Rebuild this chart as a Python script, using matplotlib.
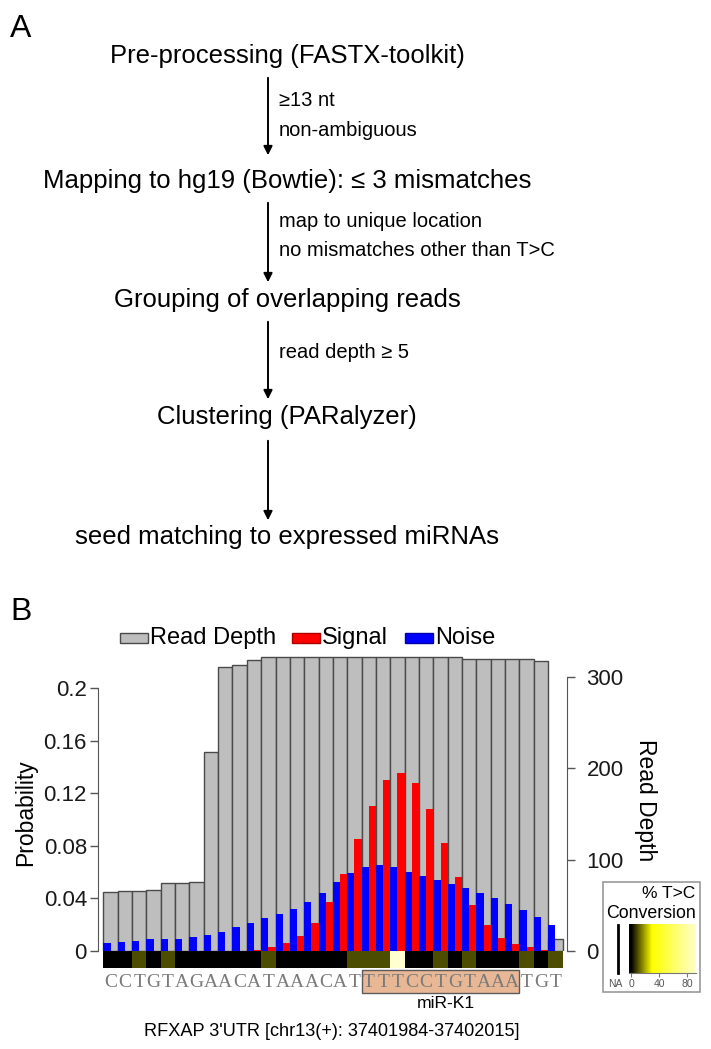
import matplotlib
matplotlib.use("Agg")
import matplotlib.pyplot as plt
import numpy as np
from matplotlib.patches import Rectangle, FancyArrowPatch
from matplotlib.lines import Line2D
from matplotlib.colors import LinearSegmentedColormap, Normalize

plt.rcParams['font.family'] = ['Liberation Sans', 'DejaVu Sans']

# ---------------- data ----------------
steps = ["Pre-processing (FASTX-toolkit)",
         "Mapping to hg19 (Bowtie): \u2264 3 mismatches",
         "Grouping of overlapping reads",
         "Clustering (PARalyzer)",
         "seed matching to expressed miRNAs"]
filters = [["\u226513 nt", "non-ambiguous"],
           ["map to unique location", "no mismatches other than T>C"],
           ["read depth \u2265 5"],
           []]

sequence = "CCTGTAGAACATAAACATTTTCCTGTAAATGT"
read_depth = [65, 66, 66, 67, 74, 75, 76, 218, 311, 313, 319, 322, 322, 322,
              322, 322, 322, 322, 322, 322, 322, 322, 322, 322, 322, 320, 320,
              320, 320, 320, 318, 13]
noise = [0.0058, 0.0071, 0.0078, 0.0089, 0.0091, 0.0094, 0.0109, 0.0124,
         0.0147, 0.0185, 0.0215, 0.0248, 0.0279, 0.0317, 0.0370, 0.0438,
         0.0522, 0.0590, 0.0636, 0.0653, 0.0636, 0.0602, 0.0569, 0.0539,
         0.0509, 0.0476, 0.0438, 0.0400, 0.0357, 0.0311, 0.0256, 0.0197]
signal = [0, 0, 0, 0, 0, 0, 0, 0, 0, 0, 0.0008, 0.0033, 0.0058, 0.0114,
          0.0210, 0.0370, 0.0582, 0.0848, 0.1103, 0.1298, 0.1356, 0.1280,
          0.1083, 0.0825, 0.0564, 0.0349, 0.0197, 0.0101, 0.0053, 0.0033,
          0.0010, 0]
nan = np.nan
conversion = [nan, nan, 9, nan, 9, nan, nan, nan, nan, nan, nan, 9, nan, nan,
              nan, nan, nan, 9, 9, 9, 95, nan, nan, 9, nan, 9, nan, nan, nan,
              9, nan, 9]
mirna_name = "miR-K1"
mirna_start, mirna_end = 18, 28   # 0-based positions covered by the site
region_label = "RFXAP 3'UTR [chr13(+): 37401984-37402015]"
prob_ticks = [0, 0.04, 0.08, 0.12, 0.16, 0.2]
prob_ticklabels = ["0", "0.04", "0.08", "0.12", "0.16", "0.2"]
depth_ticks = [0, 100, 200, 300]
conv_ticks = [0, 40, 80]

# ---------------- figure ----------------
W, H = 711, 1049
fig = plt.figure(figsize=(W / 100, H / 100), dpi=100)


def fx(x):
    return x / W


def fy(y):
    return 1 - y / H


# ---------------- panel A ----------------
fig.text(fx(10), fy(29), "A", fontsize=23, va="center", ha="left")
cx = 287
arrow_x = 268
step_y = [56, 181, 300, 417, 537]
arrows = [(75, 158), (200, 285), (319, 402), (438, 523)]
filter_y = [[101, 130], [222, 251], [353], []]
for s, y in zip(steps, step_y):
    fig.text(fx(cx), fy(y), s, fontsize=18.5, ha="center", va="center")
for (y0, y1) in arrows:
    fig.add_artist(FancyArrowPatch((fx(arrow_x), fy(y0)), (fx(arrow_x), fy(y1)),
                                   transform=fig.transFigure,
                                   arrowstyle="-|>", mutation_scale=13,
                                   lw=1.4, color="black"))
for texts, ys in zip(filters, filter_y):
    for t, y in zip(texts, ys):
        fig.text(fx(279), fy(y), t, fontsize=14.5, ha="left", va="center")

# ---------------- panel B ----------------
fig.text(fx(10), fy(612), "B", fontsize=23, va="center", ha="left")

x = np.arange(len(sequence))
left_px, right_px = 98, 567
bottom_px, top_px = 951, 640
x0 = 110.5
step = 14.35
xlim = ((left_px - x0) / step, (right_px - x0) / step)

ax = fig.add_axes([fx(left_px), fy(bottom_px), (right_px - left_px) / W,
                   (bottom_px - top_px) / H])
ax.bar(x, read_depth, width=1.0, color="#bebebe", edgecolor="#4a4a4a",
       linewidth=1.0, zorder=1)
ax.set_xlim(*xlim)
ax.set_ylim(0, 300 * (bottom_px - top_px) / (951 - 677))
ax.set_xticks([])

ax2 = ax.twinx()
ax2.bar(x - 0.25, noise, width=0.5, color="#0000ff", linewidth=0, zorder=2)
ax2.bar(x + 0.25, signal, width=0.5, color="#ff0000", linewidth=0, zorder=2)
ax2.set_xlim(*xlim)
ax2.set_ylim(0, 0.2 * (bottom_px - top_px) / (951 - 688))

# read depth axis on the right (base axes)
ax.yaxis.tick_right()
ax.yaxis.set_label_position("right")
ax.set_yticks(depth_ticks)
for sp in ["left", "top", "bottom"]:
    ax.spines[sp].set_visible(False)
ax.spines["right"].set_visible(True)
ax.spines["right"].set_bounds(0, 300)
ax.spines["right"].set_color("#555555")
ax.tick_params(axis="y", which="both", left=False, labelleft=False,
               right=True, labelright=True, direction="out", length=6,
               width=1, color="#555555", labelsize=16, pad=8,
               labelcolor="#1a1a1a")

# probability axis on the left (twin axes)
ax2.yaxis.tick_left()
ax2.yaxis.set_label_position("left")
ax2.set_yticks(prob_ticks)
ax2.set_yticklabels(prob_ticklabels)
for sp in ["right", "top", "bottom"]:
    ax2.spines[sp].set_visible(False)
ax2.spines["left"].set_visible(True)
ax2.spines["left"].set_bounds(0, 0.2)
ax2.spines["left"].set_color("#555555")
ax2.tick_params(axis="y", which="both", right=False, labelright=False,
                left=True, labelleft=True, direction="out", length=6,
                width=1, color="#555555", labelsize=16, pad=2,
                labelcolor="#1a1a1a")

fig.text(fx(26), fy(813), "Probability", rotation=90, fontsize=16.5,
         ha="center", va="center")
fig.text(fx(645), fy(800), "Read Depth", rotation=-90, fontsize=16.5,
         ha="center", va="center")

# legend
leg = [("#bebebe", "#4a4a4a", "Read Depth", 120),
       ("#ff0000", "#aa0000", "Signal", 292),
       ("#0000ff", "#0000aa", "Noise", 405)]
for fc, ec, lab, lx in leg:
    fig.add_artist(Rectangle((fx(lx), fy(642.5)), 28 / W, 9.5 / H,
                             transform=fig.transFigure, facecolor=fc,
                             edgecolor=ec, linewidth=1))
    fig.text(fx(lx + 30), fy(638), lab, fontsize=17, ha="left", va="center")

# conversion strip
cmap = LinearSegmentedColormap.from_list(
    "tc", [(0, "#000000"), (0.3, "#ffff00"), (1.0, "#ffffe0")])
norm = Normalize(0, 100)
strip_colors = ["#000000" if np.isnan(v) else cmap(norm(v)) for v in conversion]
axs = fig.add_axes([fx(left_px), fy(968), (right_px - left_px) / W, 17 / H])
axs.bar(x, [1] * len(x), width=1.0, color=strip_colors, linewidth=0)
axs.set_xlim(*xlim)
axs.set_ylim(0, 1)
axs.axis("off")

trans = axs.get_xaxis_transform()
axs.add_patch(Rectangle((mirna_start - 0.5, -1.45), mirna_end - mirna_start + 1,
                        1.33, transform=trans, facecolor="#e8b896",
                        edgecolor="#5a5a5a", linewidth=1, clip_on=False,
                        zorder=1))
for i, ch in enumerate(sequence):
    axs.text(i, -0.85, ch, transform=trans, ha="center", va="center",
             fontsize=14, color="#7a7a7a", family="Liberation Serif",
             zorder=3, clip_on=False)
axs.text((mirna_start + mirna_end) / 2 + 0.4, -2.06, mirna_name,
         transform=trans, ha="center", va="center", fontsize=12.6,
         clip_on=False)
fig.text(fx(332), fy(1032), region_label, fontsize=13.1, ha="center",
         va="center")

# colour legend box
fig.add_artist(Rectangle((fx(603), fy(992)), 97 / W, 110 / H,
                         transform=fig.transFigure, facecolor="none",
                         edgecolor="#999999", linewidth=1.2, zorder=-1))
fig.text(fx(695), fy(893), "% T>C", fontsize=12.5, ha="right", va="center")
fig.text(fx(651), fy(913), "Conversion", fontsize=12.8, ha="center",
         va="center")
fig.add_artist(Line2D([fx(618), fx(618)], [fy(973), fy(925)],
                      transform=fig.transFigure, color="black", lw=2))
cax = fig.add_axes([fx(629), fy(973), 67 / W, 49 / H])
cax.set_zorder(5)
grad = np.linspace(-3, 93, 200).reshape(1, -1)
cax.imshow(grad, cmap=cmap, norm=norm, aspect="auto",
           extent=(-3, 93, 0, 1), origin="lower")
cax.set_xlim(-3, 93)
cax.set_yticks([])
cax.set_xticks(conv_ticks)
for sp in ["left", "top", "right"]:
    cax.spines[sp].set_visible(False)
cax.spines["bottom"].set_color("#777777")
cax.spines["bottom"].set_linewidth(0.8)
cax.tick_params(axis="x", length=3, width=0.8, color="#777777", labelsize=7.5,
                pad=1.5, labelcolor="#555555")
fig.text(fx(615), fy(984), "NA", fontsize=7.5, ha="center", va="center",
         color="#555555")

fig.savefig("out.png", dpi=100)
